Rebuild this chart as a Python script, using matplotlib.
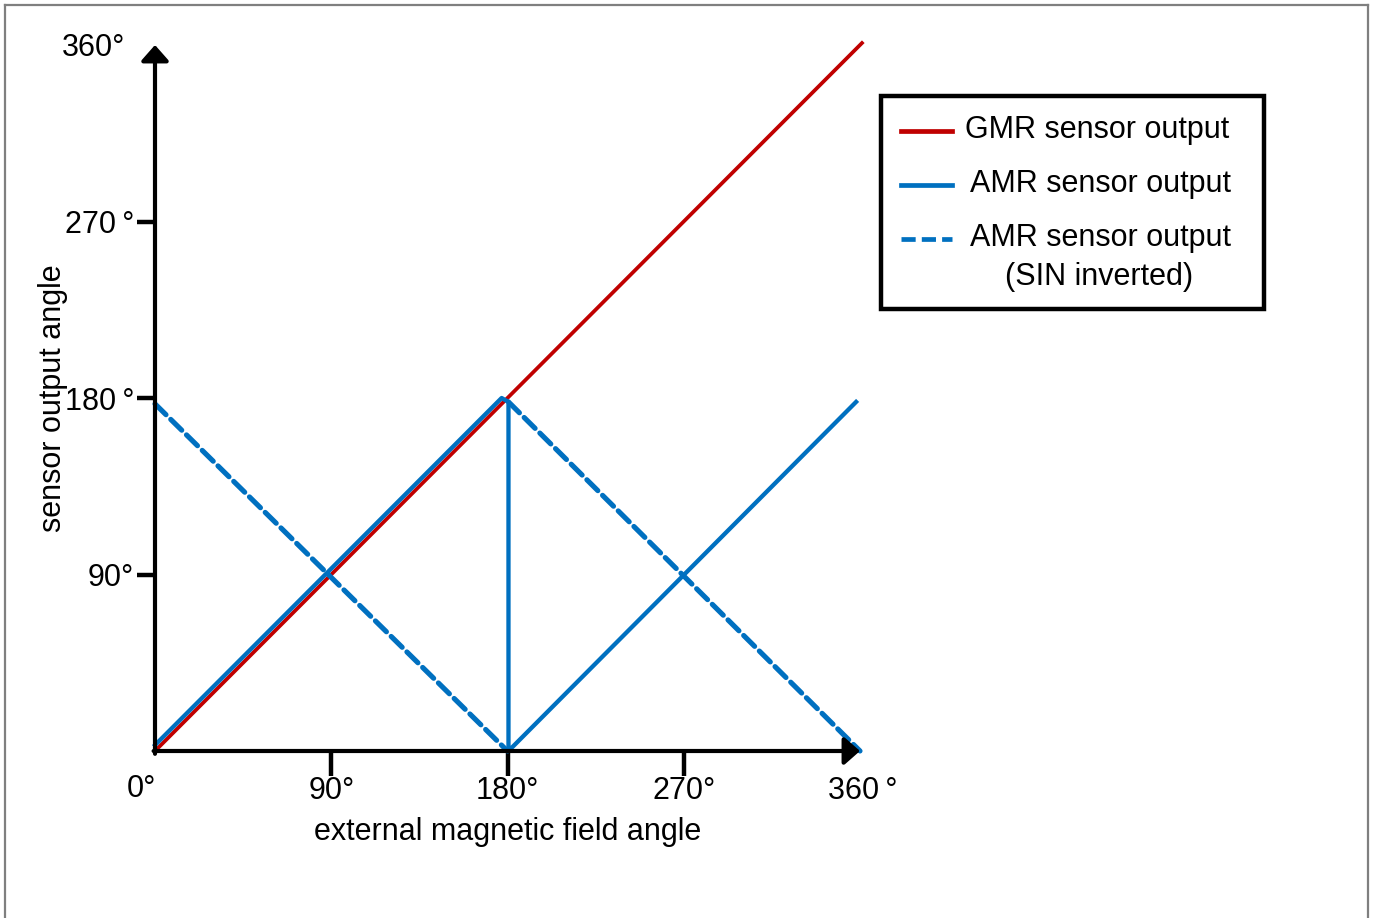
import matplotlib
matplotlib.use("Agg")
import matplotlib.pyplot as plt
from matplotlib.lines import Line2D
from matplotlib.patches import Rectangle
from matplotlib.transforms import ScaledTranslation

plt.rcParams['font.family'] = ['Liberation Sans', 'DejaVu Sans']

# data (degrees)
gmr_x = [0, 361]
gmr_y = [0, 361]
amr_x = [0, 177, 180.5, 180.5, 358]
amr_y = [3, 180, 178, 0, 178]
amr_inv_x = [[0, 180], [180.5, 360]]
amr_inv_y = [[177, 0], [178, 0]]

xticks = [0, 90, 180, 270, 360]
xlabels = ["0°", "90°", "180°", "270°", "360\u2009°"]
yticks = [90, 180, 270, 360]
ylabels = ["90°", "180\u2009°", "270\u2009°", "360°"]

red = "#C00000"
blue = "#0070C0"
dash = (0, (3.0, 1.3))
fs = 22

W, H = 1375, 918
fig = plt.figure(figsize=(W / 100, H / 100), dpi=100)

# outer gray frame (bottom cut off)
for xs, ys in [([5, 5], [5, 918]), ([5, 1368], [5, 5]), ([1368, 1368], [5, 918])]:
    fig.add_artist(Line2D([x / W for x in xs], [1 - y / H for y in ys],
                          color="#7f7f7f", lw=1.6))

ax = fig.add_axes([155 / W, 1 - 751 / H, 705 / W, 706 / H])
ax.set_xlim(0, 360)
ax.set_ylim(0, 360)
for s in ax.spines.values():
    s.set_visible(False)

ax.plot(gmr_x, gmr_y, color=red, lw=2.7, clip_on=False, zorder=3)
ax.plot(amr_x, amr_y, color=blue, lw=3.1, clip_on=False, zorder=4)
for xs, ys in zip(amr_inv_x, amr_inv_y):
    ax.plot(xs, ys, color=blue, lw=3.7, ls=dash, dash_capstyle='round',
            clip_on=False, zorder=4)

# axes with arrow heads
arr = dict(arrowstyle='-|>,head_length=0.34,head_width=0.3', lw=3, color='k',
           mutation_scale=28, shrinkA=0, shrinkB=0)
ax.annotate('', xy=(0, 1.0), xytext=(0, -0.004), xycoords='axes fraction',
            arrowprops=arr, zorder=5)
ax.annotate('', xy=(1.0, 0), xytext=(-0.002, 0), xycoords='axes fraction',
            arrowprops=arr, zorder=5)

ax.set_xticks(xticks)
ax.set_xticklabels(xlabels, fontsize=fs)
ax.set_yticks(yticks)
ax.set_yticklabels(ylabels, fontsize=fs)
ax.tick_params(axis='x', length=18, width=3.2, pad=0)
ax.tick_params(axis='y', length=13, width=3.2, pad=2)
xt = ax.xaxis.get_major_ticks()
xt[0].tick1line.set_visible(False)
xt[-1].tick1line.set_visible(False)
yt = ax.yaxis.get_major_ticks()
yt[-1].tick1line.set_visible(False)
xt[0].label1.set_transform(xt[0].label1.get_transform() +
                           ScaledTranslation(-0.14, 0.02, fig.dpi_scale_trans))
xt[-1].label1.set_transform(xt[-1].label1.get_transform() +
                            ScaledTranslation(0.03, 0, fig.dpi_scale_trans))
yt[-1].label1.set_transform(yt[-1].label1.get_transform() +
                            ScaledTranslation(-0.09, 0, fig.dpi_scale_trans))

ax.set_xlabel("external magnetic field angle", fontsize=fs, labelpad=8)
ax.set_ylabel("sensor output angle", fontsize=fs)
ax.yaxis.set_label_coords(-0.124, 0.5)

# legend box
lx0, ly0, lx1, ly1 = 881, 96, 1264, 309
fig.add_artist(Rectangle((lx0 / W, 1 - ly1 / H), (lx1 - lx0) / W, (ly1 - ly0) / H,
                         fill=False, ec='k', lw=3.2))
leg = [
    (131, red, '-', "GMR sensor output", 965),
    (185, blue, '-', "AMR sensor output", 970),
    (239, blue, dash, "AMR sensor output", 970),
]
for y, c, ls, txt, tx in leg:
    fig.add_artist(Line2D([901 / W, 952 / W], [1 - y / H, 1 - y / H],
                          color=c, lw=3.4, ls=ls))
    fig.text(tx / W, 1 - (y - 1) / H, txt, fontsize=fs, va='center', ha='left')
fig.text(1005 / W, 1 - 277 / H, "(SIN inverted)", fontsize=fs,
         va='center', ha='left')

fig.savefig("out.png", dpi=100, facecolor='white')
